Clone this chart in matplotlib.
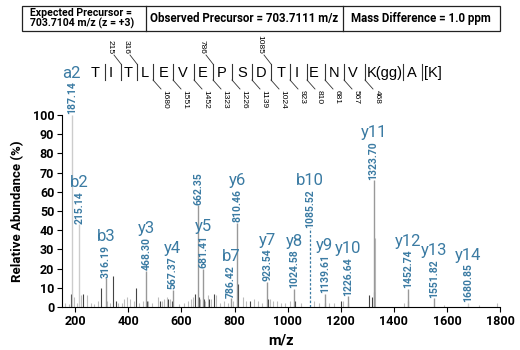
import matplotlib
matplotlib.use("Agg")
import matplotlib.pyplot as plt
from matplotlib.lines import Line2D
from matplotlib.patches import Rectangle

# ---- data ----
ion_mz = [187.14, 215.14, 316.19, 468.30, 567.37, 662.35, 681.41, 786.42, 810.46,
          923.54, 1024.58, 1139.61, 1226.64, 1323.70, 1452.74, 1551.82, 1680.85]
ion_int = [100, 43, 15, 19, 9, 53, 20, 4.5, 44, 13, 9.5, 7, 5.5, 66, 9.5, 4.5, 2]
ion_name = ['a2', 'b2', 'b3', 'y3', 'y4', '', 'y5', 'b7', 'y6', 'y7', 'y8', 'y9',
            'y10', 'y11', 'y12', 'y13', 'y14']
ion_light = [True, True, False, False, False, False, False, False, False,
             False, False, False, False, False, False, False, True]

b10_mz = 1085.52
b10_int = 41

noise_dark_mz = [185, 228, 298, 343, 352, 430, 470, 520, 548, 566, 652, 665, 684,
                 705, 722, 812, 860, 925, 1026, 1140, 1200, 1228, 1305, 1316, 1325, 1455]
noise_dark_int = [7, 7, 10, 16, 3, 10, 3, 3, 4, 3, 7, 5, 4, 4, 7, 12, 3, 4, 3, 2, 3, 2, 6, 5, 8, 3]

noise_light_mz = [160, 175, 195, 205, 222, 243, 258, 270, 285, 320, 330, 360, 375,
                  385, 395, 405, 420, 440, 455, 475, 490, 510, 525, 535, 545, 555,
                  590, 610, 625, 635, 645, 670, 690, 700, 710, 730, 745, 760, 775,
                  795, 830, 845, 875, 890, 905, 935, 945, 960, 975, 990, 1010, 1050,
                  1100, 1120, 1155, 1175, 1210, 1330, 1440, 1590, 1720, 1790]
noise_light_int = [2, 1.5, 5, 2, 6, 6, 2, 1.5, 3, 3, 2, 2, 2, 4, 5, 4, 3, 2, 3, 3,
                   2, 5, 3, 4, 5, 4, 1.5, 2, 3, 4, 5, 4, 3, 6, 4, 6, 2, 3, 2, 3, 5,
                   3, 4, 3, 2, 4, 3, 3, 2, 2, 3, 2, 3, 2, 2, 2, 3, 36, 2, 1, 1, 2]

sequence = ['T', 'I', 'T', 'L', 'E', 'V', 'E', 'P', 'S', 'D', 'T', 'I', 'E', 'N',
            'V', 'K(gg)', 'A', '[K]']
b_frag = {2: '215', 3: '316', 7: '786', 10: '1085'}
y_frag = {4: '1680', 5: '1551', 6: '1452', 7: '1323', 8: '1226', 9: '1139',
          10: '1024', 11: '923', 12: '810', 13: '681', 14: '567', 15: '468'}

header = ['Expected Precursor =\n703.7104 m/z (z = +3)',
          'Observed Precursor = 703.7111 m/z',
          'Mass Difference = 1.0 ppm']

# ---- layout ----
W, H = 520, 350
blue = '#3b7ba3'
narrow = ['Roboto', 'DejaVu Sans']
plain = ['Liberation Sans', 'DejaVu Sans']

def fx(x):
    return x / W

def fy(y):
    return 1 - y / H

fig = plt.figure(figsize=(5.2, 3.5), dpi=100)
ax = fig.add_axes([fx(62), fy(307), (500 - 62) / W, 192 / H])

ax.vlines(noise_light_mz, 0, noise_light_int, color='#bdbdbd', lw=0.8)
ax.vlines(noise_dark_mz, 0, noise_dark_int, color='#444444', lw=0.8)
cols = ['#cccccc' if l else '#999999' for l in ion_light]
ax.vlines(ion_mz, 0, ion_int, color=cols, lw=1.0)
ax.vlines([b10_mz], 0, [b10_int], color=blue, lw=0.9, linestyles=(0, (2, 1.5)))

for mz, h, nm in zip(ion_mz + [b10_mz], ion_int + [b10_int], ion_name + ['b10']):
    t = ax.annotate('%.2f' % mz, xy=(mz, h), xytext=(0, 0.5), textcoords='offset points',
                    rotation=90, ha='center', va='bottom', fontsize=7.5,
                    color=blue, family=narrow, fontweight='bold')
    if nm:
        ax.annotate(nm, xy=(0.5, 1), xycoords=t, xytext=(0, 0.5),
                    textcoords='offset points', ha='center', va='bottom',
                    fontsize=12, color=blue, family=narrow)

ax.set_xlim(150, 1800)
ax.set_ylim(0, 100)
ax.set_xticks(range(200, 1801, 200))
ax.set_yticks(range(0, 101, 10))
for s in ['top', 'right']:
    ax.spines[s].set_visible(False)
ax.tick_params(length=3.5, width=0.8, labelsize=9, pad=2)
for lab in ax.get_xticklabels() + ax.get_yticklabels():
    lab.set_family(narrow)
    lab.set_fontweight('bold')
ax.set_xlabel('m/z', family=narrow, fontweight='bold', fontsize=10.5, labelpad=4)
ax.set_ylabel('Relative Abundance (%)', family=narrow, fontweight='bold',
              fontsize=9.5, labelpad=6)

# ---- header table ----
fig.add_artist(Rectangle((fx(22), fy(31)), fx(500) - fx(22), fy(6) - fy(31),
                         transform=fig.transFigure, fill=False, lw=0.9, ec='#222222'))
for xd in [146, 343]:
    fig.add_artist(Line2D([fx(xd), fx(xd)], [fy(31), fy(6)], color='#222222', lw=0.9))
fig.text(fx(30), fy(18.5), header[0], ha='left', va='center', fontsize=7.6,
         fontweight='bold', family=narrow, linespacing=0.95)
fig.text(fx(244), fy(18.5), header[1], ha='center', va='center', fontsize=8.3,
         fontweight='bold', family=narrow)
fig.text(fx(421), fy(18.5), header[2], ha='center', va='center', fontsize=8.3,
         fontweight='bold', family=narrow)

# ---- peptide sequence with fragment marks ----
seq_x = [95, 111, 128, 145, 164, 183, 203, 222, 242, 261, 281, 297, 314, 334,
         353, 385, 412, 433]
sep_x = [105, 121, 137, 153, 173, 194, 213, 232, 252, 271, 290, 307, 325, 344,
         365, 403, 422]
for x, r in zip(seq_x, sequence):
    fig.text(fx(x), fy(73), r, ha='center', va='center', fontsize=10.5, family=plain)
for i, x in enumerate(sep_x, start=1):
    fig.add_artist(Line2D([fx(x), fx(x)], [fy(64), fy(80)], color='#333333', lw=0.8))
    if i in b_frag:
        fig.add_artist(Line2D([fx(x), fx(x - 7)], [fy(64), fy(55)], color='#333333', lw=0.6))
        fig.text(fx(x - 11), fy(54), b_frag[i], rotation=270, ha='center', va='bottom',
                 fontsize=6, family=plain)
    if i in y_frag:
        fig.add_artist(Line2D([fx(x), fx(x + 8)], [fy(80), fy(89)], color='#333333', lw=0.6))
        fig.text(fx(x + 12), fy(90), y_frag[i], rotation=270, ha='center', va='top',
                 fontsize=6, family=plain)

fig.savefig('out.png', dpi=100)
